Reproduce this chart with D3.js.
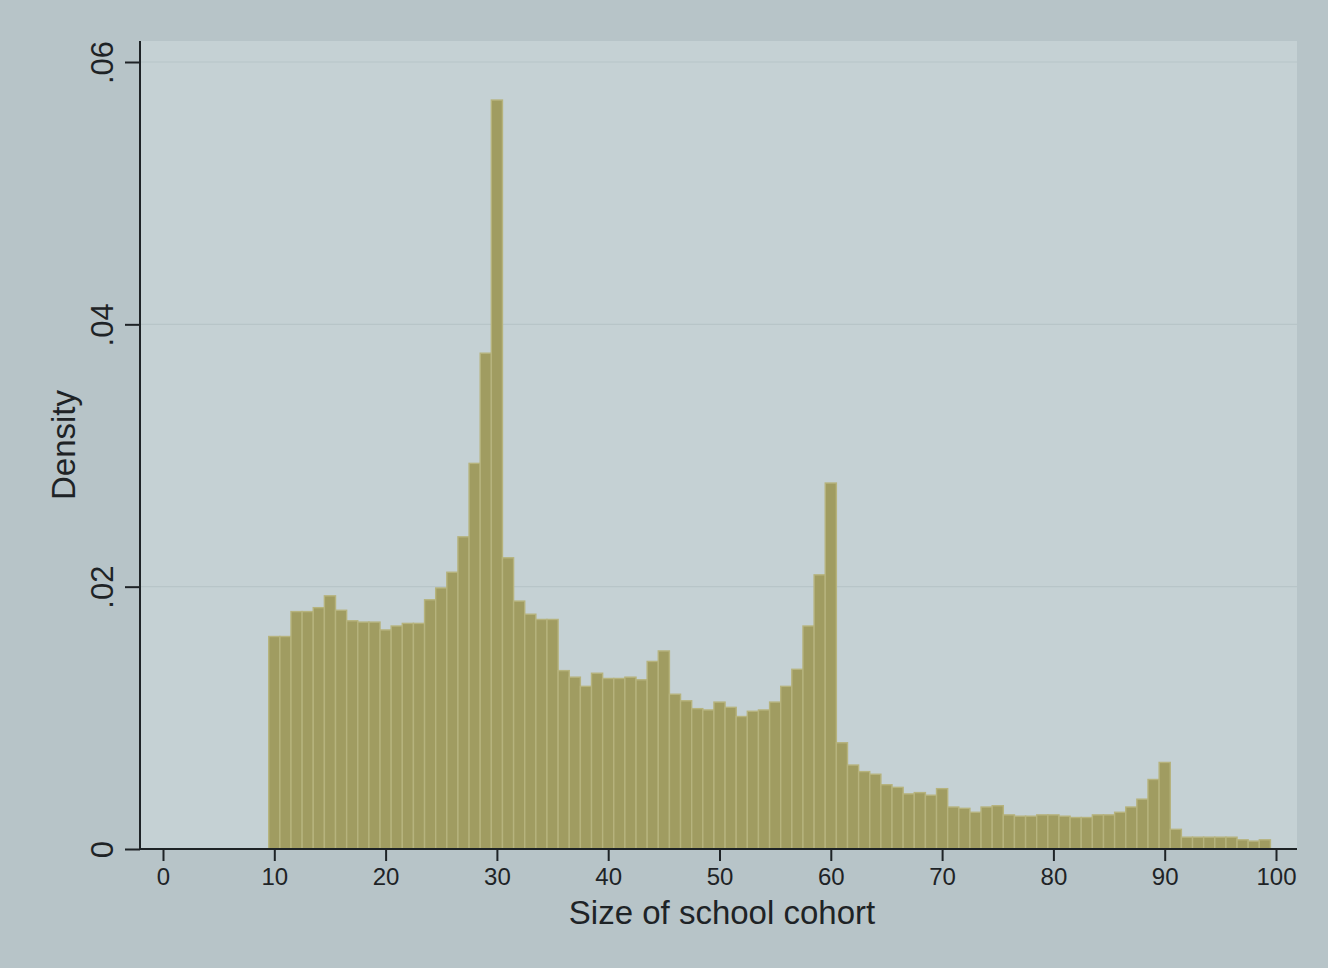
<!DOCTYPE html>
<html>
<head>
<meta charset="utf-8">
<script src="https://cdn.jsdelivr.net/npm/d3@7"></script>
<style>
  html, body { margin: 0; padding: 0; background: #b7c4c8; }
  svg { display: block; }
  text { font-family: "Liberation Sans", Arial, Helvetica, sans-serif; fill: #1e2326; }
</style>
</head>
<body>
<svg id="chart" width="1328" height="968"></svg>
<script>
// Histogram of school cohort sizes: one bin per integer size, 10..99
const binStarts = d3.range(10, 100);
const densities = [
  0.0162, 0.0162, 0.0181, 0.0181, 0.0184, 0.0193, 0.0182, 0.0174, 0.0173, 0.0173, // 10-19
  0.0167, 0.0170, 0.0172, 0.0172, 0.0190, 0.0199, 0.0211, 0.0238, 0.0294, 0.0378, // 20-29
  0.0571, 0.0222, 0.0189, 0.0179, 0.0175, 0.0175, 0.0136, 0.0131, 0.0124, 0.0134, // 30-39
  0.0130, 0.0130, 0.0131, 0.0129, 0.0143, 0.0151, 0.0118, 0.0113, 0.0107, 0.0106, // 40-49
  0.0112, 0.0108, 0.0101, 0.0105, 0.0106, 0.0112, 0.0124, 0.0137, 0.0170, 0.0209, // 50-59
  0.0279, 0.0081, 0.0064, 0.0059, 0.0057, 0.0049, 0.0047, 0.0042, 0.0043, 0.0041, // 60-69
  0.0046, 0.0032, 0.0031, 0.0028, 0.0032, 0.0033, 0.0026, 0.0025, 0.0025, 0.0026, // 70-79
  0.0026, 0.0025, 0.0024, 0.0024, 0.0026, 0.0026, 0.0028, 0.0032, 0.0038, 0.0053, // 80-89
  0.0066, 0.0015, 0.0009, 0.0009, 0.0009, 0.0009, 0.0009, 0.0007, 0.0006, 0.0007  // 90-99
];
const xTicks = [0, 10, 20, 30, 40, 50, 60, 70, 80, 90, 100];
const yTicks = [0, 0.02, 0.04, 0.06];
const yTickLabels = ["0", ".02", ".04", ".06"];
const xTitle = "Size of school cohort";
const yTitle = "Density";

const bins = binStarts.map((v, i) => ({ center: v, density: densities[i] }));

const svg = d3.select("#chart");

const plot = { left: 140, right: 1297, top: 41, bottom: 849 };

const x = d3.scaleLinear().domain([0, 100]).range([163, 1276]);
const y = d3.scaleLinear().domain([0, 0.06]).range([849, 62]);

// plot region background
svg.append("rect")
  .attr("x", plot.left).attr("y", plot.top)
  .attr("width", plot.right - plot.left).attr("height", plot.bottom - plot.top)
  .attr("fill", "#c5d1d4");

// faint horizontal grid lines
svg.append("g")
  .selectAll("line")
  .data(yTicks.filter(t => t > 0))
  .join("line")
  .attr("x1", plot.left).attr("x2", plot.right)
  .attr("y1", d => y(d)).attr("y2", d => y(d))
  .attr("stroke", "#b8c5c8")
  .attr("stroke-width", 1.2);

// bars
svg.append("g")
  .selectAll("rect")
  .data(bins)
  .join("rect")
  .attr("x", d => x(d.center - 0.5))
  .attr("width", d => x(d.center + 0.5) - x(d.center - 0.5))
  .attr("y", d => y(d.density))
  .attr("height", d => y(0) - y(d.density))
  .attr("fill", "#a09c61")
  .attr("stroke", "#b6b37d")
  .attr("stroke-width", 1.4);

// x axis
const xAxis = svg.append("g")
  .attr("transform", `translate(0,${plot.bottom})`)
  .call(d3.axisBottom(x).tickValues(xTicks).tickSize(12).tickPadding(7).tickFormat(d3.format("d")));
xAxis.select(".domain").attr("d", `M${plot.left},0H${plot.right}`).attr("stroke", "#1e2326").attr("stroke-width", 2);
xAxis.selectAll(".tick line").attr("stroke", "#1e2326").attr("stroke-width", 2);
xAxis.selectAll(".tick text")
  .style("font-family", "'Liberation Sans', Arial, sans-serif")
  .style("font-size", "24px")
  .attr("fill", "#1e2326");

// y axis
const yAxis = svg.append("g")
  .attr("transform", `translate(${plot.left},0)`)
  .call(d3.axisLeft(y).tickValues(yTicks).tickSize(15).tickFormat((d, i) => yTickLabels[i]));
yAxis.select(".domain").attr("d", `M0,${plot.top}V${plot.bottom}`).attr("stroke", "#1e2326").attr("stroke-width", 2);
yAxis.selectAll(".tick line").attr("stroke", "#1e2326").attr("stroke-width", 2);
yAxis.selectAll(".tick text")
  .attr("x", null).attr("dy", null)
  .attr("transform", "translate(-27,0) rotate(-90)")
  .attr("text-anchor", "middle")
  .attr("fill", "#1e2326")
  .style("font-family", "'Liberation Sans', Arial, sans-serif")
  .style("font-size", "31px");

// axis titles
svg.append("text")
  .attr("x", 722).attr("y", 924)
  .attr("text-anchor", "middle")
  .style("font-size", "33px")
  .text(xTitle);

svg.append("text")
  .attr("transform", "translate(75,445) rotate(-90)")
  .attr("text-anchor", "middle")
  .style("font-size", "33px")
  .text(yTitle);
</script>
</body>
</html>
